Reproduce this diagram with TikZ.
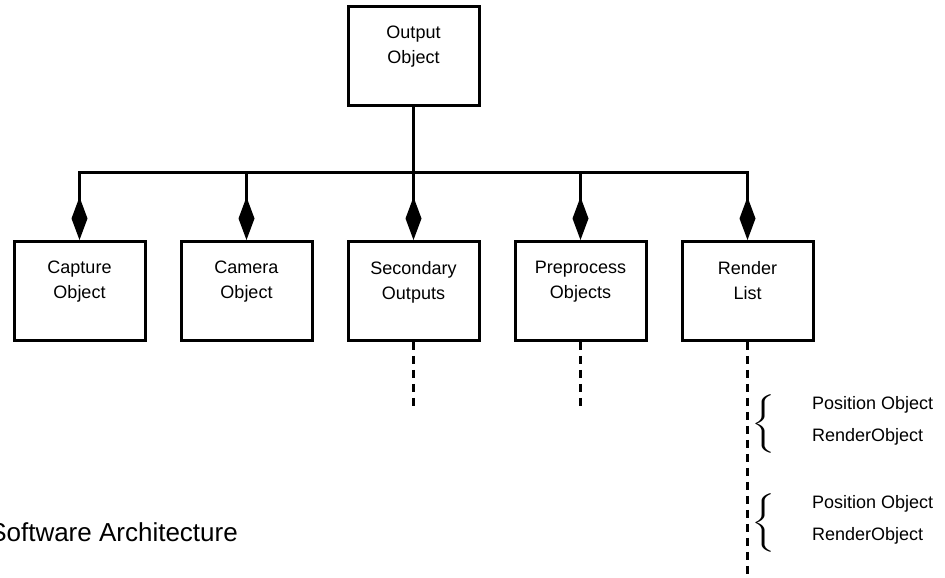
\documentclass[tikz,border=0pt]{standalone}
\usepackage{fontspec}
\setmainfont{Liberation Sans}
\usetikzlibrary{positioning,arrows.meta}

\tikzset{
  objbox/.style={draw,line width=3pt,minimum width=131pt,minimum height=99pt,
    align=center,font=\fontsize{18}{25}\selectfont,text depth=22pt},
  owns/.style={line width=3pt,-{Diamond[length=43pt,width=16pt]}},
  trail/.style={line width=3pt,dash pattern=on 8pt off 6pt},
  membrace/.style={inner sep=0pt},
  member/.style={align=left,font=\fontsize{18}{32}\selectfont,inner sep=0pt,anchor=west},
}
\newcommand{\listbrace}{\scalebox{3}[1.95]{$\Bigg\{$}}

\begin{document}
\begin{tikzpicture}[x=1pt,y=1pt]
    \useasboundingbox (0,0) rectangle (945,578);
    % objects
    \node [objbox] (capture) at (79.5,287) {Capture\\Object};
    \node [objbox,right=33pt of capture] (camera) {Camera\\Object};
    \node [objbox,right=33pt of camera] (secondary) {Secondary\\Outputs};
    \node [objbox,right=33pt of secondary] (preprocess) {Preprocess\\Objects};
    \node [objbox,right=33pt of preprocess] (render) {Render\\List};
    \node [objbox,above=133pt of secondary] (output) {Output\\Object};
    % aggregation
    \coordinate [below=66pt of output.south] (bus);
    \foreach \n in {capture,camera,secondary,preprocess,render} {
        \draw [owns] (output.south) -- (bus) -| (\n.north);
    }
    % continuations
    \coordinate [below=66pt of secondary.south] (secondary-end);
    \coordinate [below=66pt of preprocess.south] (preprocess-end);
    \coordinate (render-end) at (render.south |- 0,0);
    \draw [trail] (secondary.south) -- (secondary-end);
    \draw [trail] (preprocess.south) -- (preprocess-end);
    \draw [trail] (render.south) -- (render-end);
    % list members
    \node [membrace] (brace1) at (764,154) {\listbrace};
    \node [member] (members1) at (812,157) {Position Object\\RenderObject};
    \node [membrace] (brace2) at (764,55) {\listbrace};
    \node [member] (members2) at (812,58) {Position Object\\RenderObject};
    % caption
    \node [font=\fontsize{26}{30}\selectfont,anchor=base east,inner sep=0pt] (caption) at (238,36) {Software Architecture};
\end{tikzpicture}
\end{document}
